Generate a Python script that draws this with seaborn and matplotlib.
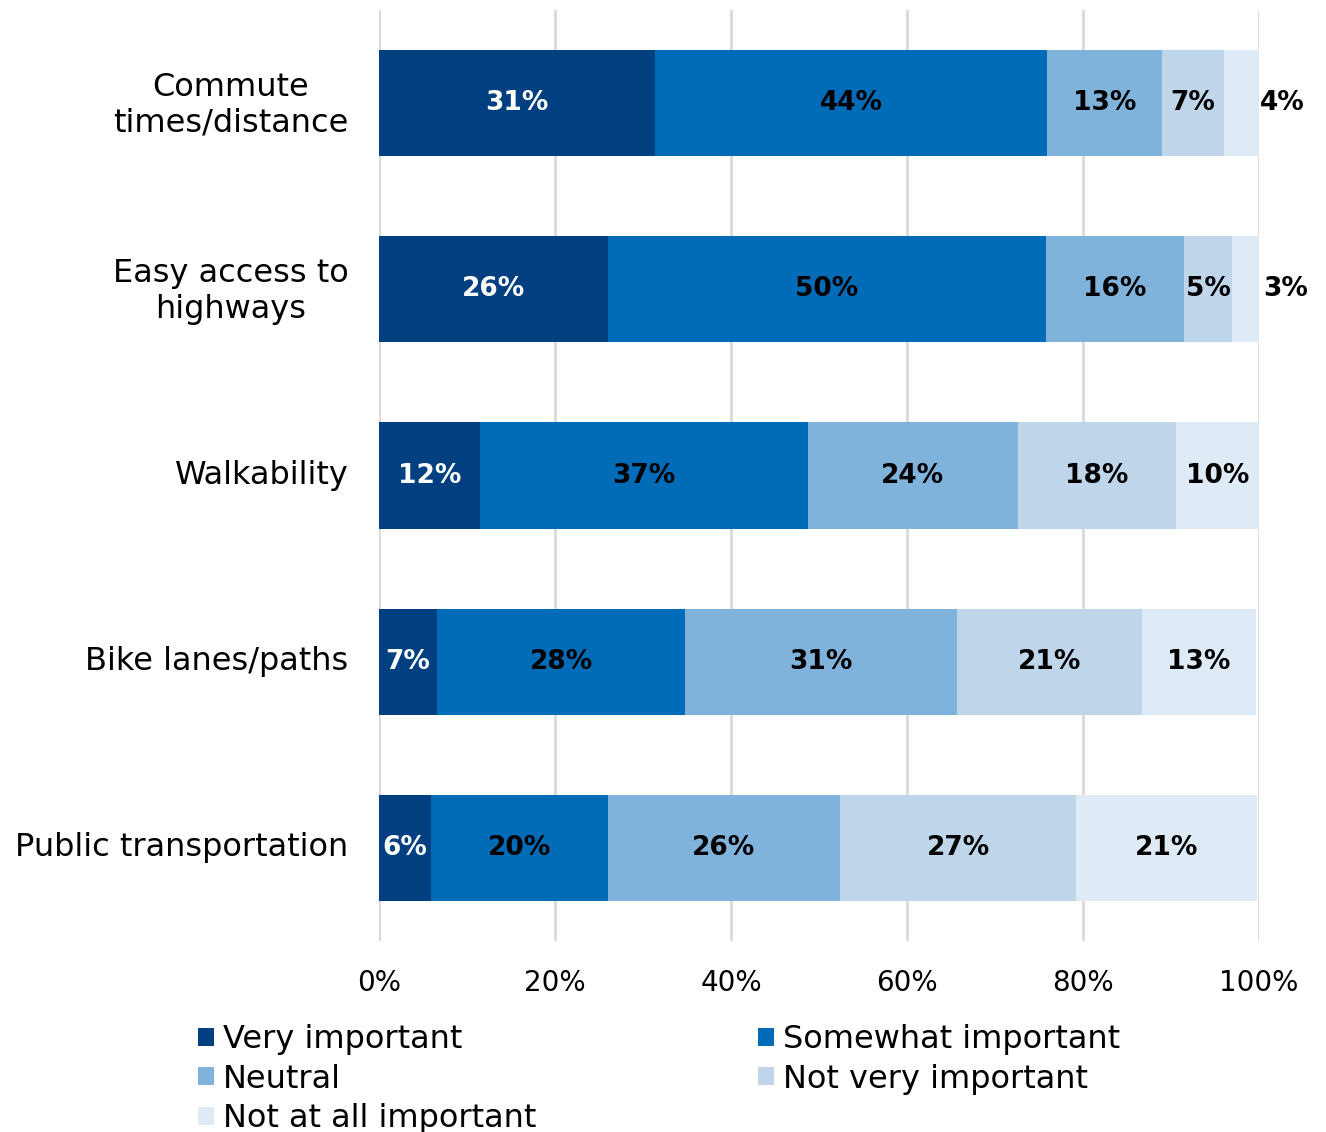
import numpy as np
import pandas as pd
import matplotlib.pyplot as plt
import matplotlib.transforms as mtransforms
import seaborn as sns
from matplotlib.patches import Patch

# Data (percent of respondents)
categories = ['Commute\ntimes/distance', 'Easy access to\nhighways', 'Walkability',
              'Bike lanes/paths', 'Public transportation']
levels = ['Very important', 'Somewhat important', 'Neutral',
          'Not very important', 'Not at all important']
very_important = [31.4, 26.0, 11.5, 6.6, 5.9]
somewhat_important = [44.5, 49.8, 37.2, 28.2, 20.1]
neutral = [13.1, 15.7, 23.9, 30.9, 26.4]
not_very_important = [7.0, 5.4, 18.0, 21.0, 26.8]
not_at_all_important = [4.0, 3.1, 9.5, 13.0, 20.6]
colors = ['#004080', '#006BB6', '#7FB3DB', '#BFD6EA', '#DEEAF5']
xticks = [0, 20, 40, 60, 80, 100]

df = pd.DataFrame({
    'category': categories,
    levels[0]: very_important,
    levels[1]: somewhat_important,
    levels[2]: neutral,
    levels[3]: not_very_important,
    levels[4]: not_at_all_important,
})
cum = df[levels].cumsum(axis=1)

sns.set_theme(style='white')
plt.rcParams['font.family'] = ['DejaVu Sans']
plt.rcParams['text.color'] = 'black'
plt.rcParams['xtick.color'] = 'black'
plt.rcParams['ytick.color'] = 'black'

fig = plt.figure(figsize=(13.26, 11.32), dpi=100)
ax = fig.add_axes([379 / 1326, 1 - 941 / 1132, 880 / 1326, 931 / 1132])

# stacked bars: draw cumulative totals from the widest down
for i in reversed(range(len(levels))):
    sns.barplot(x=cum[levels[i]], y=df['category'], color=colors[i], orient='h',
                width=0.57, saturation=1, linewidth=0, ax=ax, zorder=3)

# value labels
for r in range(len(categories)):
    left = 0
    for i, lev in enumerate(levels):
        v = df.loc[r, lev]
        xc = left + v / 2
        if v < 5 and i == len(levels) - 1:
            xc += 4.6
        ax.text(xc, r, f'{v:.0f}%', ha='center', va='center', fontsize=19,
                fontweight='bold', color='white' if i == 0 else 'black', zorder=4)
        left += v

ax.set_xlim(0, 100)
ax.set_ylim(4.5, -0.5)
ax.set_xticks(xticks)
ax.set_xticklabels([f'{t}%' for t in xticks])
ax.xaxis.grid(True, color='#D9D9D9', linewidth=2, zorder=0)
ax.set_axisbelow(True)
ax.tick_params(axis='x', length=0, pad=20, labelsize=20)
ax.tick_params(axis='y', length=0, pad=22, labelsize=23)
shift_up = mtransforms.ScaledTranslation(0, 4 / 100, fig.dpi_scale_trans)
for t in ax.get_yticklabels():
    t.set_multialignment('center')
    t.set_transform(t.get_transform() + shift_up)
ax.set_xlabel('')
ax.set_ylabel('')
sns.despine(ax=ax, left=True, bottom=True)

handles = [Patch(facecolor=c, edgecolor='none') for c in colors]
leg_kw = dict(frameon=False, fontsize=23, handlelength=0.5, handleheight=0.5,
              handletextpad=0.28, labelspacing=0.27, borderpad=0, borderaxespad=0)
fig.legend([handles[0], handles[2], handles[4]], [levels[0], levels[2], levels[4]],
           loc='upper left', bbox_to_anchor=(198 / 1326, 1 - 1024 / 1132), **leg_kw)
fig.legend([handles[1], handles[3]], [levels[1], levels[3]],
           loc='upper left', bbox_to_anchor=(758 / 1326, 1 - 1024 / 1132), **leg_kw)

fig.savefig('out.png', dpi=100)
